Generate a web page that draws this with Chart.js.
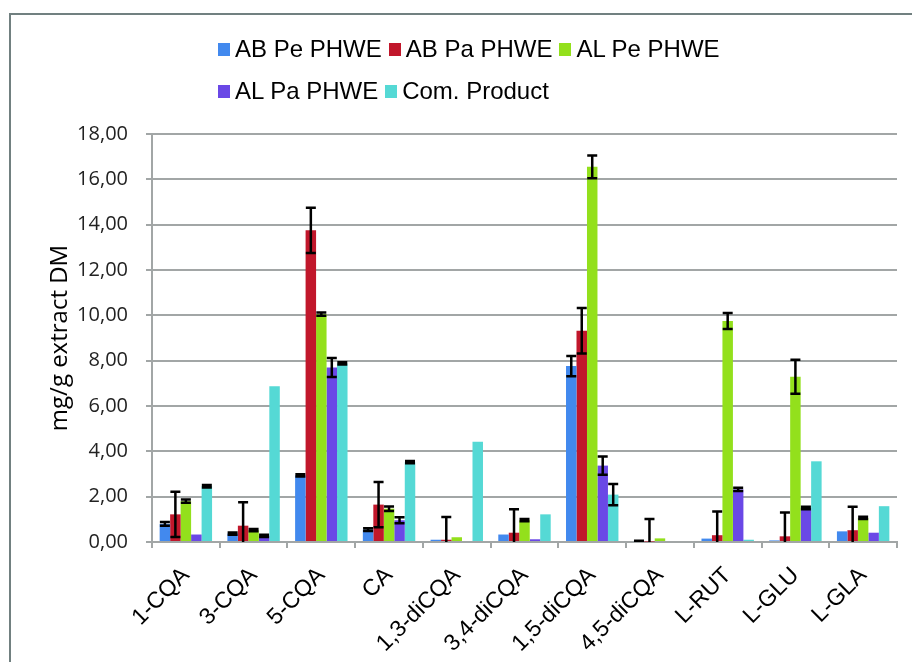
<!DOCTYPE html>
<html>
<head>
<meta charset="utf-8">
<script src="https://cdn.jsdelivr.net/npm/chart.js@4.4.1/dist/chart.umd.min.js"></script>
<style>
  html, body { margin: 0; padding: 0; background: #fff; }
  #wrap { position: relative; width: 912px; height: 662px; overflow: hidden; background: #fff; }
  #frame { position: absolute; left: 9px; top: 13px; width: 1000px; height: 1000px;
           border-left: 2px solid #718080; border-top: 2px solid #718080; }
  #chart { position: absolute; left: 0; top: 0; }
  #legend { position: absolute; left: 218px; top: 35px; color: #000;
            font-family: "Liberation Sans", Arial, sans-serif; font-size: 24px; }
  .row { display: flex; align-items: center; height: 28px; margin-bottom: 14px; white-space: nowrap; }
  .item { display: flex; align-items: center; margin-right: 7px; }
  .box { width: 12px; height: 13px; margin-right: 5px; }
</style>
</head>
<body>
<div id="wrap">
  <div id="frame"></div>
  <canvas id="chart" width="912" height="662"></canvas>
  <div id="legend"></div>
</div>
<script>
// Compounds on the x axis
const categories = ['1-CQA', '3-CQA', '5-CQA', 'CA', '1,3-diCQA', '3,4-diCQA',
                    '1,5-diCQA', '4,5-diCQA', 'L-RUT', 'L-GLU', 'L-GLA'];

// Series names
const seriesNames = ['AB Pe PHWE', 'AB Pa PHWE', 'AL Pe PHWE', 'AL Pa PHWE', 'Com. Product'];

// Mean content, mg/g extract DM
const abPe       = [0.80, 0.37, 2.94, 0.55, 0.10, 0.33, 7.76, 0.03, 0.15, 0.07, 0.47];
const abPa       = [1.22, 0.72, 13.75, 1.65, 0.10, 0.41, 9.32, 0.02, 0.30, 0.25, 0.52];
const alPe       = [1.80, 0.52, 10.05, 1.47, 0.21, 0.96, 16.55, 0.16, 9.75, 7.29, 1.06];
const alPa       = [0.33, 0.27, 7.70, 0.96, 0.00, 0.12, 3.37, 0.00, 2.32, 1.50, 0.41];
const comProduct = [2.46, 6.87, 7.88, 3.52, 4.42, 1.22, 2.09, 0.00, 0.10, 3.56, 1.58];

// Standard deviations (0 = no error bar)
const abPeErr       = [0.08, 0.05, 0.05, 0.06, 0, 0, 0.45, 0.03, 0, 0, 0];
const abPaErr       = [1.00, 1.03, 1.00, 1.00, 1.00, 1.03, 1.00, 1.00, 1.05, 1.05, 1.03];
const alPeErr       = [0.07, 0.05, 0.07, 0.10, 0, 0.05, 0.50, 0, 0.35, 0.75, 0.05];
const alPaErr       = [0, 0.05, 0.42, 0.13, 0, 0, 0.40, 0, 0.07, 0.06, 0];
const comProductErr = [0.06, 0, 0.05, 0.05, 0, 0, 0.47, 0, 0, 0, 0];

// Y axis ticks
const yTicks = [0, 2, 4, 6, 8, 10, 12, 14, 16, 18];

const colors = ['#4289EE', '#C1172B', '#93E01C', '#6A48E6', '#55D9D5'];
const values = [abPe, abPa, alPe, alPa, comProduct];
const errors = [abPeErr, abPaErr, alPeErr, alPaErr, comProductErr];

const datasets = seriesNames.map((name, i) => ({
  label: name,
  data: values[i],
  errors: errors[i],
  backgroundColor: colors[i],
  borderWidth: 0,
  categoryPercentage: 0.774,
  barPercentage: 1.0
}));

// Legend in two rows
const legendRows = [[0, 1, 2], [3, 4]];
const legendEl = document.getElementById('legend');
legendRows.forEach(row => {
  const r = document.createElement('div');
  r.className = 'row';
  row.forEach(i => {
    const it = document.createElement('div');
    it.className = 'item';
    const b = document.createElement('span');
    b.className = 'box';
    b.style.background = colors[i];
    const t = document.createElement('span');
    t.textContent = seriesNames[i];
    it.appendChild(b);
    it.appendChild(t);
    r.appendChild(it);
  });
  legendEl.appendChild(r);
});

// Draws +/- error whiskers on every bar
const errorBars = {
  id: 'errorBars',
  afterDatasetsDraw(chart) {
    const { ctx, chartArea, scales: { y } } = chart;
    ctx.save();
    ctx.beginPath();
    ctx.rect(chartArea.left, chartArea.top - 20, chartArea.right - chartArea.left, chartArea.bottom - chartArea.top + 20);
    ctx.clip();
    ctx.strokeStyle = '#000';
    ctx.lineWidth = 2.5;
    chart.data.datasets.forEach((ds, i) => {
      const meta = chart.getDatasetMeta(i);
      meta.data.forEach((bar, j) => {
        const e = ds.errors[j];
        if (!e) return;
        const v = ds.data[j];
        const yT = y.getPixelForValue(v + e);
        const yB = y.getPixelForValue(v - e);
        const x = bar.x, hw = 5;
        ctx.beginPath();
        ctx.moveTo(x, yT); ctx.lineTo(x, yB);
        ctx.moveTo(x - hw, yT); ctx.lineTo(x + hw, yT);
        ctx.moveTo(x - hw, yB); ctx.lineTo(x + hw, yB);
        ctx.stroke();
      });
    });
    ctx.restore();
  }
};

const gridColor = '#a2a6a6';

new Chart(document.getElementById('chart'), {
  type: 'bar',
  data: { labels: categories, datasets },
  plugins: [errorBars],
  options: {
    responsive: false,
    animation: false,
    layout: { padding: { top: 134, right: 15, bottom: 0, left: 0 } },
    plugins: { legend: { display: false }, tooltip: { enabled: false } },
    scales: {
      x: {
        grid: { display: true, drawOnChartArea: false, drawTicks: true, tickLength: 6,
                color: gridColor, lineWidth: 2, offset: true },
        border: { display: true, color: gridColor, width: 2 },
        ticks: { autoSkip: false, maxRotation: 45, minRotation: 45, padding: 14, color: '#000',
                 font: { family: '"Liberation Sans", Arial, sans-serif', size: 23 } },
        afterFit: s => { s.height = 120; }
      },
      y: {
        min: 0, max: 18,
        afterBuildTicks: s => { s.ticks = yTicks.map(v => ({ value: v })); },
        ticks: { padding: 18, color: '#222',
                 font: { family: '"Open Sans", sans-serif', size: 20 },
                 callback: v => v.toFixed(2).replace('.', ',') },
        grid: { color: gridColor, lineWidth: 2, tickLength: 6 },
        border: { color: gridColor, width: 2 },
        title: { display: true, text: 'mg/g extract DM', color: '#000',
                 font: { family: '"Open Sans", sans-serif', size: 24 },
                 padding: { top: 46, bottom: 0 } },
        afterFit: s => { s.width = 152; }
      }
    }
  }
});
</script>
</body>
</html>
